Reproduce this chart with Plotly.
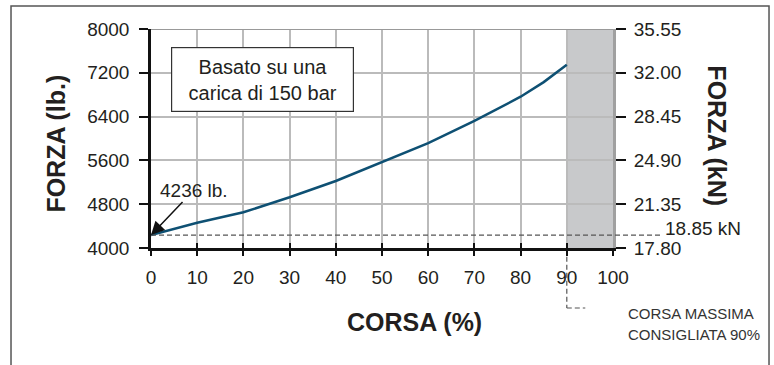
import plotly.graph_objects as go

# ---- data ----
stroke_pct = [0, 10, 20, 30, 40, 50, 60, 70, 80, 85, 90]
force_lb = [4236, 4462, 4652, 4926, 5224, 5565, 5915, 6320, 6763, 7030, 7345]
lb_ticks = [4000, 4800, 5600, 6400, 7200, 8000]
kn_ticks = [17.80, 21.35, 24.90, 28.45, 32.00, 35.55]
x_ticks = [0, 10, 20, 30, 40, 50, 60, 70, 80, 90, 100]
start_force_lb = 4236
start_force_kn = 18.85
max_stroke = 90
LB_TO_KN = (35.55 - 17.80) / (8000 - 4000)

FONT = "Liberation Sans, Arial, sans-serif"
TXT = "#231f20"

force_kn = [17.80 + (v - 4000) * LB_TO_KN for v in force_lb]

fig = go.Figure()
fig.add_trace(go.Scatter(
    x=stroke_pct, y=force_lb, mode="lines",
    line=dict(color="#0e5073", width=2.5),
    showlegend=False, hoverinfo="skip"))
# helper trace for the secondary (kN) axis
fig.add_trace(go.Scatter(
    x=stroke_pct, y=force_kn, mode="lines", xaxis="x2", yaxis="y2",
    line=dict(color="rgba(0,0,0,0)", width=1), opacity=0,
    showlegend=False, hoverinfo="skip"))

# shaded region beyond recommended max stroke
fig.add_shape(type="rect", xref="x", yref="y", x0=max_stroke, x1=100,
              y0=4000, y1=8000, fillcolor="#c8c9cb", line_width=0, layer="below")
# top border
fig.add_shape(type="line", xref="x", yref="y", x0=0, x1=100, y0=8000, y1=8000,
              line=dict(color="#999999", width=2))
# dashed line at start force
fig.add_shape(type="line", xref="paper", yref="y", x0=0, x1=1.102,
              y0=start_force_lb, y1=start_force_lb,
              line=dict(color="#555555", width=1.2, dash="5px,3px"))
# dashed leader from 90%
fig.add_shape(type="line", xref="x", yref="paper", x0=max_stroke, x1=max_stroke,
              y0=-0.04, y1=-0.274, line=dict(color="#555555", width=1.2, dash="5px,3px"))
fig.add_shape(type="line", xref="x", yref="paper", x0=max_stroke, x1=94,
              y0=-0.274, y1=-0.274, line=dict(color="#555555", width=1.2, dash="5px,3px"))
# outer frame
fig.add_shape(type="rect", xref="paper", yref="paper", x0=-0.303, x1=1.3377,
              y0=-0.6, y1=1.105, line=dict(color="#555555", width=1.5),
              fillcolor="rgba(0,0,0,0)")

anns = [
    dict(x=24.1, y=7078, xref="x", yref="y", text="Basato su una<br>carica di 150 bar",
         showarrow=False, font=dict(size=20, color=TXT, family=FONT),
         bgcolor="white", bordercolor="#333333", borderwidth=1.2, borderpad=4,
         width=173, height=55),
    dict(x=0, y=start_force_lb, xref="x", yref="y", text="4236 lb.",
         showarrow=True, arrowhead=2, arrowsize=1.8, arrowwidth=1.5, arrowcolor="#111111",
         ax=43, ay=-45, font=dict(size=19, color=TXT, family=FONT)),
    dict(x=1.108, y=0.087, xref="paper", yref="paper", text=f"{start_force_kn:.2f} kN",
         showarrow=False, xanchor="left", yanchor="middle",
         font=dict(size=19, color=TXT, family=FONT)),
    dict(x=1.028, y=-0.3, xref="paper", yref="paper", text="CORSA MASSIMA",
         showarrow=False, xanchor="left", yanchor="middle",
         font=dict(size=15, color="#333333", family=FONT)),
    dict(x=1.028, y=-0.396, xref="paper", yref="paper", text=f"CONSIGLIATA {max_stroke}%",
         showarrow=False, xanchor="left", yanchor="middle",
         font=dict(size=15, color="#333333", family=FONT)),
    dict(x=0.571, y=-0.338, xref="paper", yref="paper", text="<b>CORSA (%)</b>",
         showarrow=False, xanchor="center", yanchor="middle",
         font=dict(size=25, color=TXT, family=FONT)),
    dict(x=-0.205, y=0.478, xref="paper", yref="paper", text="<b>FORZA (lb.)</b>",
         showarrow=False, xanchor="center", yanchor="middle", textangle=-90,
         font=dict(size=25, color=TXT, family=FONT)),
    dict(x=1.225, y=0.51, xref="paper", yref="paper", text="<b>FORZA (kN)</b>",
         showarrow=False, xanchor="center", yanchor="middle", textangle=90,
         font=dict(size=25, color=TXT, family=FONT)),
]

fig.update_layout(
    width=774, height=365,
    margin=dict(l=151, r=161, t=29, b=117),
    paper_bgcolor="white", plot_bgcolor="white",
    showlegend=False,
    annotations=anns,
    xaxis=dict(range=[0, 100], tickvals=x_ticks, showgrid=True, gridcolor="#bbbbbb",
               gridwidth=1.5, showline=True, linecolor="#111111", linewidth=2.5,
               ticks="outside", ticklen=5, tickwidth=1.5, tickcolor="#111111",
               ticklabelstandoff=5, zeroline=False,
               tickfont=dict(size=19, color=TXT, family=FONT)),
    xaxis2=dict(range=[0, 100], tickvals=x_ticks, overlaying="x", anchor="y2",
                side="bottom", showgrid=False, showline=False, zeroline=False,
                ticks="inside", ticklen=5, tickwidth=1.5, tickcolor="#111111",
                showticklabels=False),
    yaxis=dict(range=[4000, 8000], tickvals=lb_ticks, showgrid=True, gridcolor="#bbbbbb",
               gridwidth=1.5, showline=True, linecolor="#111111", linewidth=2.5,
               ticks="outside", ticklen=9, tickwidth=1.5, tickcolor="#111111",
               ticklabelstandoff=6, zeroline=False,
               tickfont=dict(size=19, color=TXT, family=FONT)),
    yaxis2=dict(range=[17.80, 35.55], tickvals=kn_ticks,
                ticktext=[f"{v:.2f}" for v in kn_ticks],
                overlaying="y", side="right", anchor="x2", showgrid=False,
                showline=True, linecolor="#a0a0a0", linewidth=3, zeroline=False,
                ticks="outside", ticklen=10, tickwidth=1.5, tickcolor="#111111",
                ticklabelstandoff=4,
                tickfont=dict(size=19, color=TXT, family=FONT)),
)

fig.write_html("out.html", config={"displayModeBar": False},
               post_script="document.body.style.margin='0';document.body.style.overflow='hidden';")
